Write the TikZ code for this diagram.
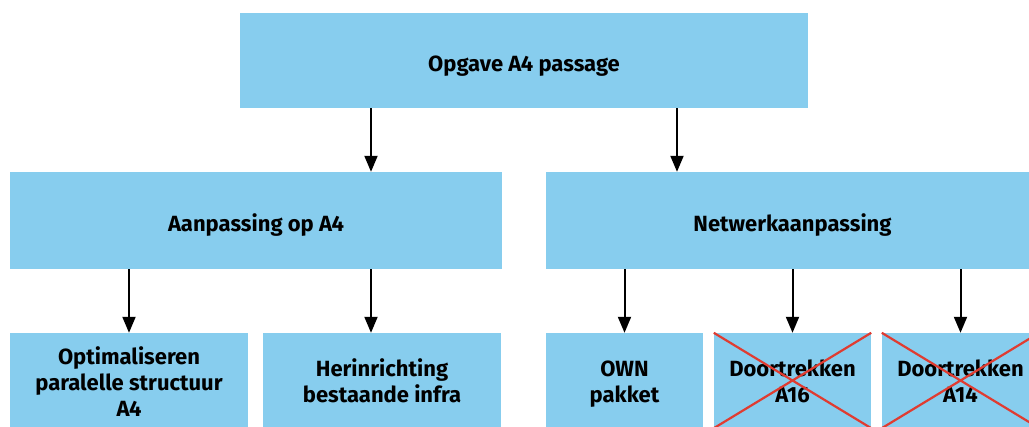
\documentclass[tikz,border=0pt]{standalone}
\usepackage{fontspec}
\setmainfont{Fira Sans}
\usetikzlibrary{arrows.meta}
\definecolor{boxblue}{HTML}{87CDEE}
\definecolor{crossred}{HTML}{E03C31}
\tikzset{
  box/.style={fill=boxblue, inner sep=0pt, align=center,
    font=\fontsize{22}{26}\selectfont\bfseries},
  oneline/.style={text height=22pt, text depth=0pt},
  twolines/.style={text height=45pt, text depth=0pt},
  threelines/.style={text height=72pt, text depth=0pt},
  arr/.style={line width=2pt, -{Triangle[width=13pt,length=16pt]}},
  cross/.style={draw=crossred, line width=2.2pt},
}
\begin{document}
\begin{tikzpicture}[x=1pt,y=-1pt]
\useasboundingbox (0,0) rectangle (1029,427);
\begin{scope}
\clip (0,0) rectangle (1029,427);
\node[box, oneline, minimum width=568pt, minimum height=95pt] (top) at (524,60.5) {Opgave A4 passage};
\node[box, oneline, minimum width=492pt, minimum height=97pt] (mid1) at (256,220.5) {Aanpassing op A4};
\node[box, oneline, minimum width=493pt, minimum height=97pt] (mid2) at (792.5,220.5) {Netwerkaanpassing};
\node[box, threelines, minimum width=238pt, minimum height=95pt] (b1) at (129,380.5) {Optimaliseren\\paralelle structuur\\A4};
\node[box, twolines, minimum width=238pt, minimum height=95pt] (b2) at (382,380.5) {Herinrichting\\bestaande infra};
\node[box, twolines, minimum width=157pt, minimum height=95pt] (b3) at (624.5,380.5) {OWN\\pakket};
\node[box, twolines, minimum width=157pt, minimum height=95pt] (b4) at (792.5,380.5) {Doortrekken\\A16};
\node[box, twolines, minimum width=157pt, minimum height=95pt] (b5) at (960.5,380.5) {Doortrekken\\A14};
\draw[cross] (b4.north west) -- (b4.south east) (b4.north east) -- (b4.south west);
\draw[cross] (b5.north west) -- (b5.south east) (b5.north east) -- (b5.south west);
\end{scope}
\draw[arr] (top.south -| 371,0) -- (mid1.north -| 371,0);
\draw[arr] (top.south -| 677,0) -- (mid2.north -| 677,0);
\draw[arr] (mid1.south -| b1) -- (b1.north);
\draw[arr] (mid1.south -| 371,0) -- (b2.north -| 371,0);
\draw[arr] (mid2.south -| b3) -- (b3.north);
\draw[arr] (mid2.south -| b4) -- (b4.north);
\draw[arr] (mid2.south -| b5) -- (b5.north);
\end{tikzpicture}
\end{document}
